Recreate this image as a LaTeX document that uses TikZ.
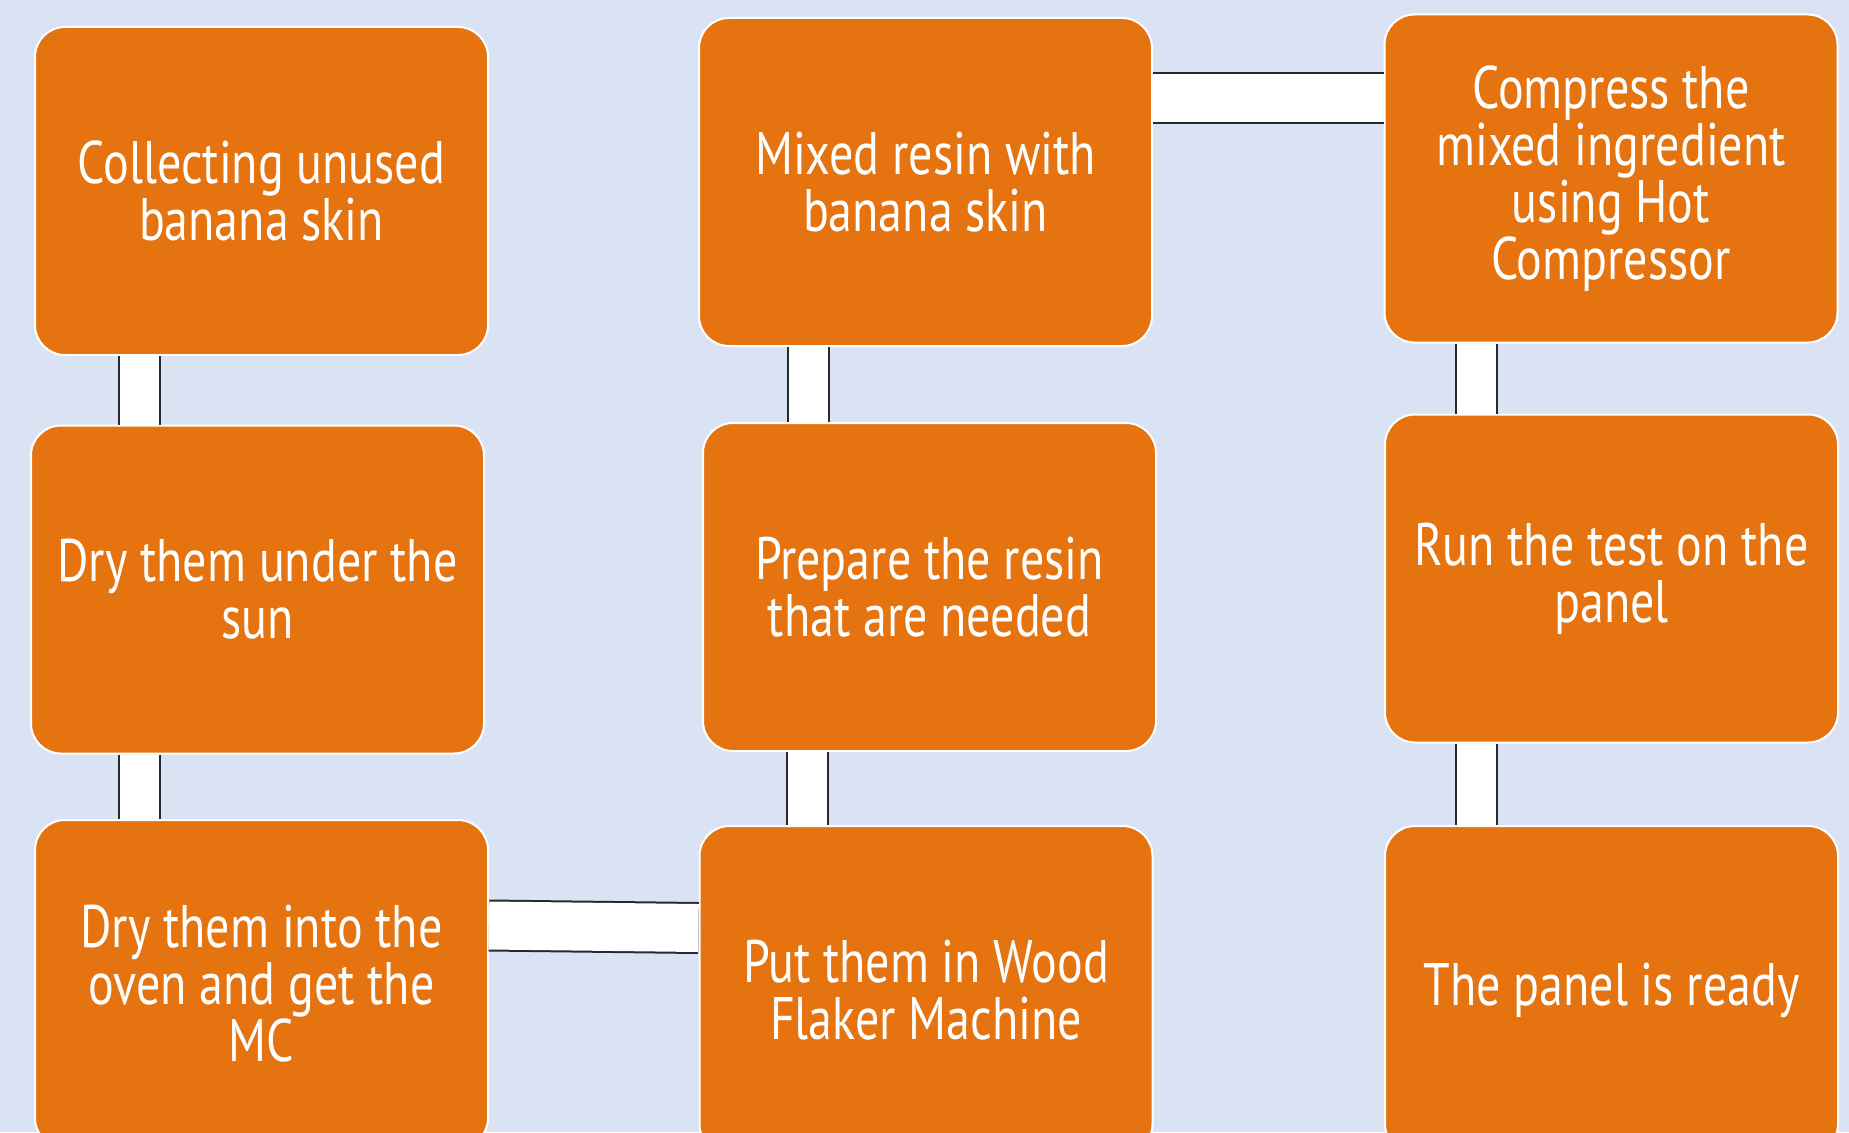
\documentclass[tikz,border=0pt]{standalone}
\usepackage{fontspec}
\setmainfont{PT Sans}[FakeStretch=0.8]
\definecolor{bgblue}{RGB}{218,227,243}
\definecolor{boxorange}{RGB}{228,115,16}
\definecolor{linedark}{RGB}{40,40,45}
\tikzset{
  stepbox/.style={draw=white, line width=2pt, fill=boxorange, rounded corners=30pt,
    minimum width=453pt, minimum height=328pt, inner sep=0pt, text=white, align=center,
    font=\fontsize{60}{57}\selectfont},
  vconn/.style={draw=linedark, line width=2pt, double=white, double distance=39pt},
  hconn/.style={draw=linedark, line width=2pt, double=white, double distance=48pt}
}
\begin{document}
\begin{tikzpicture}[x=1pt,y=-1pt]
\fill[bgblue] (0,0) rectangle (1849,1132);
\useasboundingbox (0,0) rectangle (1849,1132);
% column 1
\node[stepbox] (b1) at (261.5,191) {Collecting unused\\banana skin};
\node[stepbox] (b2) at (257.5,589.5) {Dry them under the\\sun};
\node[stepbox] (b3) at (261.5,984) {Dry them into the\\oven and get the\\MC};
% column 2
\node[stepbox] (b4) at (925.5,182) {Mixed resin with\\banana skin};
\node[stepbox] (b5) at (929.5,587) {Prepare the resin\\that are needed};
\node[stepbox] (b6) at (926,990) {Put them in Wood\\Flaker Machine};
% column 3
\node[stepbox] (b7) at (1611,178.5) {Compress the\\mixed ingredient\\using Hot\\Compressor};
\node[stepbox] (b8) at (1611.5,578.5) {Run the test on the\\panel};
\node[stepbox] (b9) at (1611.5,990) {The panel is ready};
% guide coordinates
\coordinate (xa) at (139.5,0);
\coordinate (xb) at (808.5,0);
\coordinate (xc) at (807,0);
\coordinate (xd) at (1476.5,0);
\coordinate (ya) at (0,98);
\coordinate (yb) at (0,925.5);
\coordinate (yc) at (0,928);
% connectors
\draw[vconn] (b1.south -| xa) -- (b2.north -| xa);
\draw[vconn] (b2.south -| xa) -- (b3.north -| xa);
\draw[hconn] (b3.east |- yb) -- (b6.west |- yc);
\draw[vconn] (b6.north -| xc) -- (b5.south -| xc);
\draw[vconn] (b5.north -| xb) -- (b4.south -| xb);
\draw[hconn] (b4.east |- ya) -- (b7.west |- ya);
\draw[vconn] (b7.south -| xd) -- (b8.north -| xd);
\draw[vconn] (b8.south -| xd) -- (b9.north -| xd);
\end{tikzpicture}
\end{document}
